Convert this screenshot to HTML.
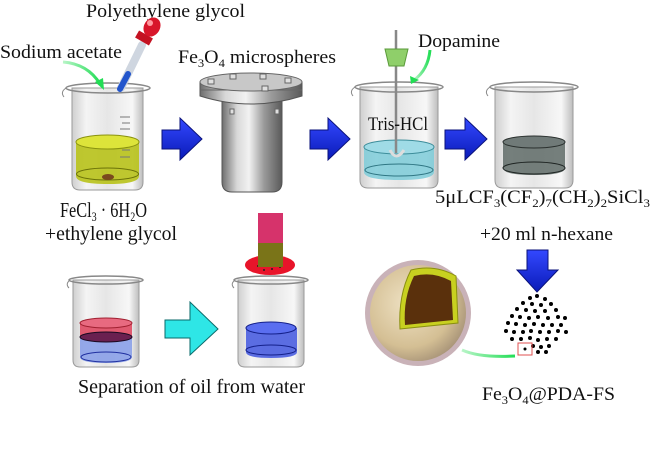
<!DOCTYPE html>
<html><head><meta charset="utf-8"><style>
html,body{margin:0;padding:0;background:#fff;}
svg{display:block;}
text{font-family:"Liberation Serif",serif;fill:#111;}
</style></head><body>
<svg width="650" height="454" viewBox="0 0 650 454" xmlns="http://www.w3.org/2000/svg">
<defs>
<linearGradient id="glass" x1="0" x2="1" y1="0" y2="0">
<stop offset="0" stop-color="#cfcfcf"/><stop offset="0.2" stop-color="#f4f4f4"/><stop offset="0.5" stop-color="#e6e6e6"/><stop offset="0.85" stop-color="#f7f7f7"/><stop offset="1" stop-color="#bdbdbd"/>
</linearGradient>
<linearGradient id="metal" x1="0" x2="1" y1="0" y2="0">
<stop offset="0" stop-color="#6e6e6e"/><stop offset="0.25" stop-color="#d8d8d8"/><stop offset="0.45" stop-color="#f2f2f2"/><stop offset="0.7" stop-color="#9a9a9a"/><stop offset="1" stop-color="#5a5a5a"/>
</linearGradient>
<radialGradient id="sph" cx="0.4" cy="0.4" r="0.65">
<stop offset="0" stop-color="#efe2c4"/><stop offset="0.7" stop-color="#d4bf94"/><stop offset="1" stop-color="#a89478"/>
</radialGradient>
<linearGradient id="blu" x1="0" x2="0" y1="0" y2="1">
<stop offset="0" stop-color="#3348ff"/><stop offset="1" stop-color="#0a1bb8"/>
</linearGradient>
<linearGradient id="gr" x1="0" x2="1"><stop offset="0" stop-color="#b9f5c8"/><stop offset="1" stop-color="#22dd55"/></linearGradient>
</defs>

<text x="86" y="17" font-size="19" textLength="159" lengthAdjust="spacingAndGlyphs">Polyethylene glycol</text>
<text x="0" y="58" font-size="19" textLength="122" lengthAdjust="spacingAndGlyphs">Sodium acetate</text>
<text x="178" y="63" font-size="19" textLength="158" lengthAdjust="spacingAndGlyphs">Fe<tspan font-size="12" dy="4">3</tspan><tspan dy="-4">O</tspan><tspan font-size="12" dy="4">4</tspan><tspan dy="-4"> microspheres</tspan></text>
<text x="418" y="47" font-size="19" textLength="82" lengthAdjust="spacingAndGlyphs">Dopamine</text>

<g>
<path d="M72 88 L72 182 Q72 190 80 190 L135 190 Q143 190 143 182 L143 88 Z" fill="url(#glass)" stroke="#9a9a9a"/>
<path d="M76 142 L76 176 Q76 184 108 184 Q139 184 139 176 L139 142 Z" fill="#b8c21a" opacity="0.9"/>
<ellipse cx="107.5" cy="142" rx="31.5" ry="7" fill="#dde43a" stroke="#8a9210"/>
<ellipse cx="107.5" cy="174" rx="31" ry="6" fill="none" stroke="#6b7208"/>
<ellipse cx="108" cy="177" rx="6" ry="3" fill="#7a4a1e"/>
<ellipse cx="108" cy="88" rx="42" ry="5" fill="none" stroke="#888" stroke-width="1.5"/>
<path d="M66 88 Q60 92 64 97" fill="none" stroke="#888"/>
<g stroke="#777" stroke-width="1"><line x1="120" y1="117" x2="130" y2="117"/><line x1="122" y1="123" x2="130" y2="123"/><line x1="120" y1="129" x2="130" y2="129"/><line x1="122" y1="150" x2="130" y2="150"/><line x1="120" y1="157" x2="130" y2="157"/></g>
</g>
<line x1="142" y1="45" x2="121" y2="88" stroke="#cfd6e0" stroke-width="8" stroke-linecap="round"/>
<line x1="128" y1="74" x2="120" y2="89" stroke="#2255cc" stroke-width="6" stroke-linecap="round"/>
<rect x="136" y="34" width="16" height="8" fill="#c41222" transform="rotate(30 144 38)"/>
<ellipse cx="152" cy="27" rx="8" ry="10" fill="#d8162a" transform="rotate(30 152 27)"/>
<ellipse cx="150" cy="23" rx="3" ry="3" fill="#ff9aa0"/>
<path d="M63 62 Q88 64 100 84" fill="none" stroke="url(#gr)" stroke-width="3"/>
<polygon points="95,82 104,90 103,78" fill="#22dd55"/>

<g fill="url(#blu)" stroke="#0a127a" stroke-width="1">
<polygon points="162,130 180,130 180,118 202,139 180,160 180,149 162,149"/>
<polygon points="310,130 328,130 328,118 350,139 328,160 328,149 310,149"/>
<polygon points="445,130 465,130 465,118 487,139 465,160 465,149 445,149"/>
<polygon points="527,250 548,250 548,270 558,270 537,292 517,270 527,270"/>
</g>

<path d="M222 100 L222 182 Q222 192 232 192 L272 192 Q282 192 282 182 L282 100 Z" fill="url(#metal)" stroke="#555"/>
<path d="M200 82 L200 96 Q251 112 302 96 L302 82 Z" fill="url(#metal)" stroke="#555"/>
<line x1="200" y1="90" x2="302" y2="90" stroke="#666"/>
<ellipse cx="251" cy="82" rx="51" ry="9" fill="#c8c8c8" stroke="#666"/>
<g fill="#e0e0e0" stroke="#666"><rect x="208" y="79" width="6" height="5"/><rect x="230" y="74" width="6" height="5"/><rect x="260" y="74" width="6" height="5"/><rect x="285" y="78" width="6" height="5"/><rect x="262" y="86" width="6" height="5"/><rect x="230" y="109" width="4" height="5"/><rect x="275" y="109" width="4" height="5"/></g>

<g>
<path d="M360 87 L360 180 Q360 188 368 188 L430 188 Q438 188 438 180 L438 87 Z" fill="url(#glass)" stroke="#9a9a9a"/>
<path d="M364 147 L364 172 Q364 180 399 180 Q434 180 434 172 L434 147 Z" fill="#7ccbd8" opacity="0.85"/>
<ellipse cx="399" cy="147" rx="35" ry="7" fill="#9fdbe6" stroke="#3d8d9a"/>
<ellipse cx="399" cy="170" rx="34" ry="6" fill="none" stroke="#2f7683"/>
<ellipse cx="399" cy="87" rx="44" ry="5" fill="none" stroke="#888" stroke-width="1.5"/>
<path d="M355 87 Q349 91 353 96" fill="none" stroke="#888"/>
</g>
<line x1="396" y1="30" x2="396" y2="153" stroke="#888" stroke-width="2.5"/>
<path d="M390 150 Q396 162 404 150" fill="none" stroke="#ddd" stroke-width="3"/>
<polygon points="385,49 408,49 404,66 389,66" fill="#8fcf6a" stroke="#5a9a3a"/>
<text x="368" y="130" font-size="19" textLength="60" lengthAdjust="spacingAndGlyphs">Tris-HCl</text>
<path d="M430 50 Q428 70 414 80" fill="none" stroke="url(#gr)" stroke-width="3"/>
<polygon points="410,76 411,84 419,80" fill="#22dd55"/>

<g>
<path d="M495 87 L495 180 Q495 188 503 188 L565 188 Q573 188 573 180 L573 87 Z" fill="url(#glass)" stroke="#9a9a9a"/>
<path d="M503 142 L503 168 Q503 175 534 175 Q565 175 565 168 L565 142 Z" fill="#5e6a66" opacity="0.85"/>
<ellipse cx="534" cy="142" rx="31" ry="6" fill="#707a78" stroke="#2a302e"/>
<ellipse cx="534" cy="168" rx="31" ry="6" fill="none" stroke="#1e2422"/>
<ellipse cx="534" cy="87" rx="44" ry="5" fill="none" stroke="#888" stroke-width="1.5"/>
<path d="M490 87 Q484 91 488 96" fill="none" stroke="#888"/>
</g>

<text x="60" y="217" font-size="21" textLength="87" lengthAdjust="spacingAndGlyphs">FeCl<tspan font-size="13" dy="4">3</tspan><tspan dy="-4"> · 6H</tspan><tspan font-size="13" dy="4">2</tspan><tspan dy="-4">O</tspan></text>
<text x="45" y="240" font-size="20" textLength="132" lengthAdjust="spacingAndGlyphs">+ethylene glycol</text>
<text x="435" y="203" font-size="19" textLength="215" lengthAdjust="spacingAndGlyphs">5μLCF<tspan font-size="12" dy="4">3</tspan><tspan dy="-4">(CF</tspan><tspan font-size="12" dy="4">2</tspan><tspan dy="-4">)</tspan><tspan font-size="12" dy="4">7</tspan><tspan dy="-4">(CH</tspan><tspan font-size="12" dy="4">2</tspan><tspan dy="-4">)</tspan><tspan font-size="12" dy="4">2</tspan><tspan dy="-4">SiCl</tspan><tspan font-size="12" dy="4">3</tspan></text>
<text x="480" y="240" font-size="19" textLength="133" lengthAdjust="spacingAndGlyphs">+20 ml n-hexane</text>

<ellipse cx="270" cy="265" rx="25" ry="10" fill="#e8142a"/>
<g fill="#222"><circle cx="258" cy="266" r="1"/><circle cx="264" cy="270" r="1"/><circle cx="272" cy="269" r="1"/><circle cx="280" cy="267" r="1"/><circle cx="266" cy="262" r="1"/></g>
<rect x="258" y="213" width="25" height="31" fill="#d6336b"/>
<rect x="258" y="243" width="25" height="24" fill="#7a7418"/>

<g>
<path d="M73 280 L73 360 Q73 367 80 367 L132 367 Q139 367 139 360 L139 280 Z" fill="url(#glass)" stroke="#9a9a9a"/>
<path d="M80 323 L80 357 Q80 363 106 363 Q132 363 132 357 L132 323 Z" fill="#8aa0e8" opacity="0.9"/>
<path d="M80 323 L80 337 L132 337 L132 323 Z" fill="#e05a70"/>
<ellipse cx="106" cy="323" rx="26" ry="5" fill="#e86a80" stroke="#a02030"/>
<ellipse cx="106" cy="337" rx="26" ry="5" fill="#6a2050" stroke="#1a0820"/>
<ellipse cx="106" cy="357" rx="25" ry="5" fill="none" stroke="#2030a0"/>
<ellipse cx="106" cy="280" rx="37" ry="4" fill="none" stroke="#888" stroke-width="1.5"/>
<path d="M70 280 Q65 284 69 288" fill="none" stroke="#888"/>
</g>
<polygon points="165,320 190,320 190,302 218,329 190,355 190,338 165,338" fill="#2ee6e6" stroke="#0a6a6a"/>
<g>
<path d="M238 280 L238 360 Q238 367 245 367 L297 367 Q304 367 304 360 L304 280 Z" fill="url(#glass)" stroke="#9a9a9a"/>
<path d="M246 328 L246 352 Q246 358 271 358 Q297 358 297 352 L297 328 Z" fill="#4a5ee0" opacity="0.9"/>
<ellipse cx="271" cy="328" rx="25" ry="6" fill="#5a6ef0" stroke="#14208a"/>
<ellipse cx="271" cy="350" rx="25" ry="5" fill="none" stroke="#14208a"/>
<ellipse cx="271" cy="280" rx="37" ry="4" fill="none" stroke="#888" stroke-width="1.5"/>
<path d="M235 280 Q230 284 234 288" fill="none" stroke="#888"/>
</g>
<text x="78" y="393" font-size="20" textLength="227" lengthAdjust="spacingAndGlyphs">Separation of oil from water</text>

<circle cx="418" cy="313" r="53" fill="#c9b2b8"/>
<circle cx="418" cy="313" r="48" fill="url(#sph)"/>
<path d="M400 329 L458 323 L456 276 Q435 264 411 270 Q398 295 400 329 Z" fill="#c8d020" stroke="#8a9010"/>
<path d="M405 325 L453 320 L451 281 Q433 271 414 276 Q403 298 405 325 Z" fill="#5a300c"/>
<path d="M462 350 Q480 358 515 356" fill="none" stroke="url(#gr)" stroke-width="3"/>

<g fill="#000">
<circle cx="530" cy="298" r="2"/><circle cx="537" cy="296" r="2"/><circle cx="545" cy="299" r="2"/><circle cx="523" cy="303" r="2"/><circle cx="532" cy="304" r="2"/><circle cx="541" cy="305" r="2"/><circle cx="551" cy="304" r="2"/><circle cx="517" cy="309" r="2"/><circle cx="526" cy="310" r="2"/><circle cx="535" cy="311" r="2"/><circle cx="545" cy="311" r="2"/><circle cx="556" cy="310" r="2"/><circle cx="512" cy="316" r="2"/><circle cx="520" cy="317" r="2"/><circle cx="529" cy="318" r="2"/><circle cx="538" cy="317" r="2"/><circle cx="548" cy="318" r="2"/><circle cx="558" cy="317" r="2"/><circle cx="565" cy="318" r="2"/><circle cx="508" cy="323" r="2"/><circle cx="516" cy="324" r="2"/><circle cx="525" cy="325" r="2"/><circle cx="534" cy="324" r="2"/><circle cx="543" cy="325" r="2"/><circle cx="552" cy="325" r="2"/><circle cx="561" cy="325" r="2"/><circle cx="506" cy="331" r="2"/><circle cx="514" cy="332" r="2"/><circle cx="523" cy="332" r="2"/><circle cx="531" cy="331" r="2"/><circle cx="540" cy="332" r="2"/><circle cx="549" cy="332" r="2"/><circle cx="558" cy="331" r="2"/><circle cx="566" cy="332" r="2"/><circle cx="512" cy="339" r="2"/><circle cx="521" cy="339" r="2"/><circle cx="530" cy="338" r="2"/><circle cx="538" cy="340" r="2"/><circle cx="547" cy="339" r="2"/><circle cx="556" cy="339" r="2"/><circle cx="533" cy="346" r="2"/><circle cx="541" cy="347" r="2"/><circle cx="549" cy="346" r="2"/><circle cx="538" cy="352" r="2"/><circle cx="546" cy="352" r="2"/><circle cx="525" cy="349" r="1.5"/>
</g>
<rect x="518" y="343" width="14" height="12" fill="none" stroke="#e05050" stroke-width="1"/>
<text x="482" y="400" font-size="19" textLength="133" lengthAdjust="spacingAndGlyphs">Fe<tspan font-size="12" dy="4">3</tspan><tspan dy="-4">O</tspan><tspan font-size="12" dy="4">4</tspan><tspan dy="-4">@PDA-FS</tspan></text>
</svg>
</body></html>
